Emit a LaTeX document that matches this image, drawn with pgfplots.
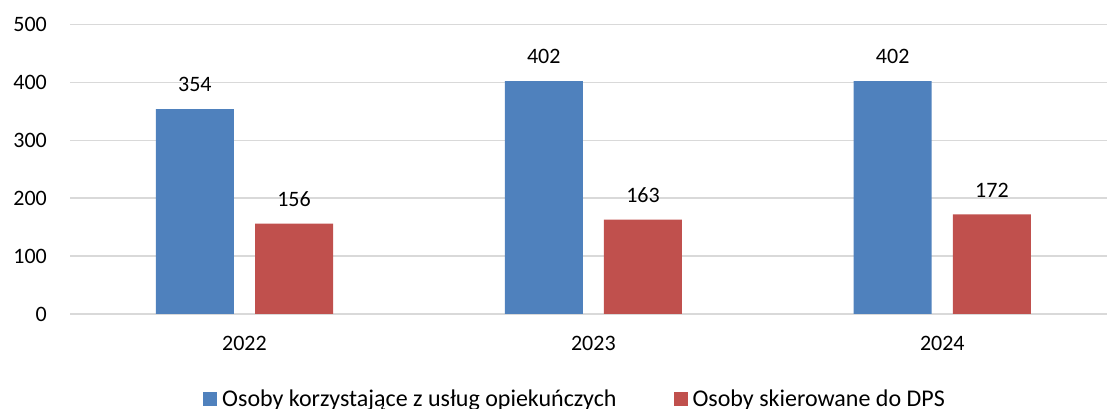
\documentclass[border=0pt]{standalone}
\usepackage{pgfplots}
\pgfplotsset{compat=1.18}
\usepackage{fontspec}
\setmainfont{Carlito}
\definecolor{cblue}{HTML}{4F81BD}
\definecolor{cred}{HTML}{C0504D}
\definecolor{cgrid}{HTML}{D9D9D9}
\begin{document}
\begin{tikzpicture}
\useasboundingbox (0,0) rectangle (1107pt,409pt);
\begin{axis}[
  at={(70pt,95pt)}, anchor=south west,
  scale only axis, width=1037pt, height=289.5pt,
  ybar, bar width=78pt,
  legend image code/.code={\fill[#1,draw=none] (0pt,-7pt) rectangle (14pt,7pt);},
  xmin=-0.5, xmax=2.472, ymin=0, ymax=500,
  xtick={0,1,2}, xticklabels={2022,2023,2024},
  ytick={0,100,...,500},
  axis line style={draw=none},
  major tick length=0pt,
  ymajorgrids, grid style={cgrid, line width=1.4pt},
  /pgf/number format/assume math mode=true,
  font=\fontsize{22}{26}\selectfont,
  yticklabel style={anchor=east, inner sep=0pt, xshift=-23pt},
  xticklabel style={anchor=north, inner sep=0pt, yshift=-22pt},
  nodes near coords,
  every node near coord/.append style={anchor=south, inner sep=0pt, yshift=17pt, black},
  legend columns=2,
  legend style={draw=none, fill=none, inner sep=0pt, at={(axis description cs:0.1283,-0.2936)}, anchor=west,
    font=\fontsize{24}{28}\selectfont,
    nodes={inner sep=0pt, anchor=west},
    /tikz/every odd column/.append style={column sep=5pt},
    /tikz/every even column/.append style={column sep=57pt}},
]
\addplot[fill=cblue, draw=none, bar shift=-49.6pt] coordinates {(0,354) (1,402) (2,402)};
\addplot[fill=cred, draw=none, bar shift=49.6pt] coordinates {(0,156) (1,163) (2,172)};
\legend{Osoby korzystające z usług opiekuńczych, Osoby skierowane do DPS}
\end{axis}
\end{tikzpicture}
\end{document}
